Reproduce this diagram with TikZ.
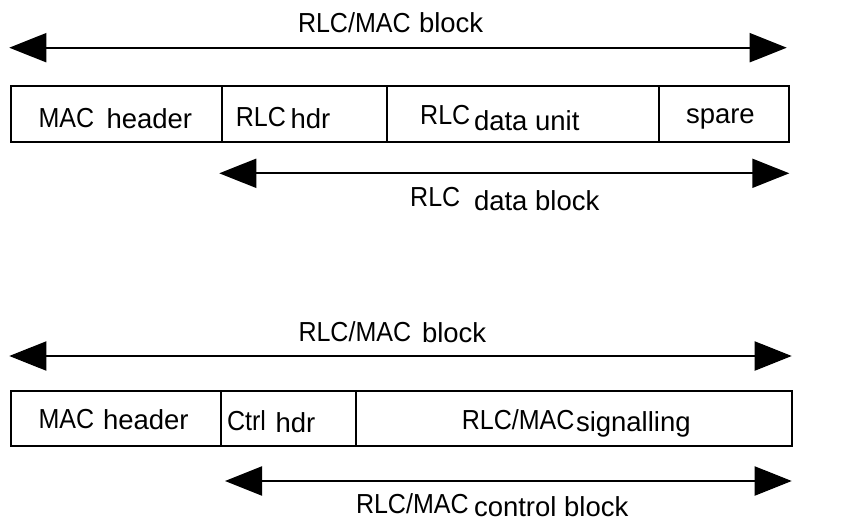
\documentclass[tikz,border=0pt]{standalone}
\usepackage{fontspec}
\setmainfont{Liberation Sans}
\newfontfamily\capfont[FakeStretch=0.91]{Liberation Sans}
\usetikzlibrary{arrows.meta}
\tikzset{
  up/.style={font=\capfont\fontsize{27.5}{30}\selectfont, inner sep=0pt, outer sep=0pt, anchor=base west},
  lo/.style={font=\fontsize{27.5}{30}\selectfont, inner sep=0pt, outer sep=0pt, anchor=base west},
  cell/.style={draw, line width=1.8pt, inner sep=0pt, outer sep=0pt, anchor=north west},
  dimline/.style={line width=2pt, {Triangle[length=37pt,width=29pt]}-{Triangle[length=37pt,width=29pt]}},
}
\begin{document}
\begin{tikzpicture}[x=1pt,y=-1pt]
\useasboundingbox (0,0) rectangle (849,532);

% ---------- upper diagram ----------
\node[up] (l1a) at (298,32.7) {RLC/MAC};
\node[lo] (l1b) at (419,33) {block};
\coordinate (a1l) at (9.3,47.7);
\coordinate (a1r) at (786.7,47.7);
\draw[dimline] (a1l) -- (a1r);

\node[cell, minimum width=210.4pt, minimum height=56.3pt] (c11) at (11.3,86) {};
\node[cell, minimum width=165pt,   minimum height=56.3pt] (c12) at (221.7,86) {};
\node[cell, minimum width=272.3pt, minimum height=56.3pt] (c13) at (386.7,86) {};
\node[cell, minimum width=130.3pt, minimum height=56.3pt] (c14) at (659,86) {};

\node[up] (t11a) at (38.5,127.5) {MAC};
\node[lo] (t11b) at (106.5,129) {header};
\node[up] (t12a) at (235.8,126.7) {RLC};
\node[lo] (t12b) at (290.5,129) {hdr};
\node[up] (t13a) at (420.2,125) {RLC};
\node[lo] (t13b) at (474,130.7) {data unit};
\node[lo] (t14) at (686,123.3) {spare};

\coordinate (a2l) at (219.3,173.3);
\coordinate (a2r) at (789.3,173.3);
\draw[dimline] (a2l) -- (a2r);
\node[up] (l2a) at (410.2,206.7) {RLC};
\node[lo] (l2b) at (474,210) {data block};

% ---------- lower diagram ----------
\node[up] (l3a) at (298.5,341) {RLC/MAC};
\node[lo] (l3b) at (422,342.7) {block};
\coordinate (a3l) at (9.3,356);
\coordinate (a3r) at (791.7,356);
\draw[dimline] (a3l) -- (a3r);

\node[cell, minimum width=210pt,   minimum height=54.7pt] (c21) at (11.3,391) {};
\node[cell, minimum width=134.7pt, minimum height=54.7pt] (c22) at (221.3,391) {};
\node[cell, minimum width=436.3pt, minimum height=54.7pt] (c23) at (356,391) {};

\node[up] (t21a) at (38.5,428.3) {MAC};
\node[lo] (t21b) at (103,429.3) {header};
\node[up] (t22a) at (227,430) {Ctrl};
\node[lo] (t22b) at (275.5,432.7) {hdr};
\node[up] (t23a) at (461.8,429.3) {RLC/MAC};
\node[lo] (t23b) at (576,431) {signalling};

\coordinate (a4l) at (225,481);
\coordinate (a4r) at (791.7,481);
\draw[dimline] (a4l) -- (a4r);
\node[up] (l4a) at (356,513.3) {RLC/MAC};
\node[lo] (l4b) at (474,516) {control block};
\end{tikzpicture}
\end{document}
